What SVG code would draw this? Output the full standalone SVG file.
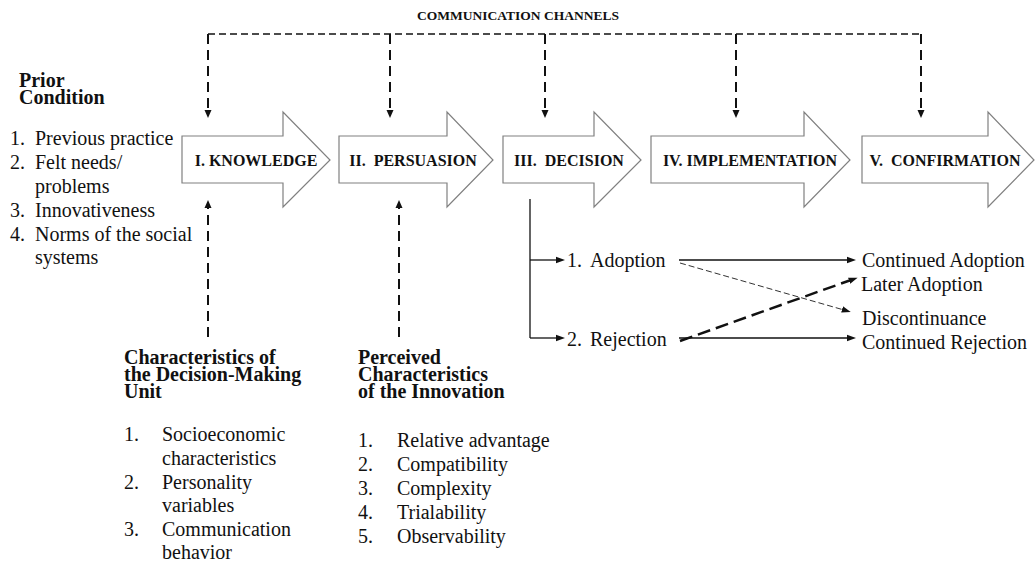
<svg xmlns="http://www.w3.org/2000/svg" width="1036" height="563" viewBox="0 0 1036 563">
<defs>
<style>
text{font-family:"Liberation Serif","Times New Roman",serif;fill:#111;}
.b{font-weight:bold;}
.stage{font-size:16px;font-weight:bold;text-anchor:middle;}
.t20{font-size:20px;}
.blk{fill:#fff;stroke:#808080;stroke-width:1.2;}
.dh{fill:none;stroke:#111;stroke-width:1.5;stroke-dasharray:7 4;}
.dv{fill:none;stroke:#111;stroke-width:2;stroke-dasharray:10 6;}
.sl{fill:none;stroke:#111;stroke-width:1.3;}
.thin{fill:none;stroke:#333;stroke-width:1;stroke-dasharray:6 3;}
.thick{fill:none;stroke:#111;stroke-width:2.5;stroke-dasharray:13 6;}
</style>
<marker id="ah" markerUnits="userSpaceOnUse" markerWidth="8" markerHeight="8" viewBox="0 0 8 8" refX="2" refY="4" orient="auto"><path d="M0,0.5 L8,4 L0,7.5 z" fill="#111"/></marker>
<marker id="as" markerUnits="userSpaceOnUse" markerWidth="9" markerHeight="8" viewBox="0 0 9 8" refX="2" refY="4" orient="auto"><path d="M0,0.8 L9,4 L0,7.2 z" fill="#111"/></marker>
</defs>
<rect width="1036" height="563" fill="#fff"/>

<g id="title"><text class="b" x="518" y="20" font-size="13.5" text-anchor="middle">COMMUNICATION CHANNELS</text></g>

<g id="knowledge"><path class="blk" d="M182,136 H283 V112 L330,160 L283,207 V183 H182 Z"/><text class="stage" x="256" y="166">I. KNOWLEDGE</text></g>
<g id="persuasion"><path class="blk" d="M339,136 H447 V112 L493,160 L447,207 V183 H339 Z"/><text class="stage" x="413" y="166" xml:space="preserve">II.  PERSUASION</text></g>
<g id="decision"><path class="blk" d="M503,136 H594 V112 L641,160 L594,207 V183 H503 Z"/><text class="stage" x="569" y="166" xml:space="preserve">III.  DECISION</text></g>
<g id="implementation"><path class="blk" d="M651,136 H804 V112 L850,160 L804,207 V183 H651 Z"/><text class="stage" x="750" y="166">IV. IMPLEMENTATION</text></g>
<g id="confirmation"><path class="blk" d="M862,136 H988 V112 L1034,160 L988,207 V183 H862 Z"/><text class="stage" x="945" y="166" xml:space="preserve">V.  CONFIRMATION</text></g>

<g id="prior-condition">
<text class="b t20" x="19" y="87">Prior</text>
<text class="b t20" x="19" y="104">Condition</text>
<text class="t20" x="10" y="145">1.</text><text class="t20" x="35" y="145">Previous practice</text>
<text class="t20" x="10" y="169">2.</text><text class="t20" x="35" y="169">Felt needs/</text>
<text class="t20" x="35" y="193">problems</text>
<text class="t20" x="10" y="217">3.</text><text class="t20" x="35" y="217">Innovativeness</text>
<text class="t20" x="10" y="241">4.</text><text class="t20" x="35" y="241">Norms of the social</text>
<text class="t20" x="35" y="264">systems</text>
</g>

<g id="decision-unit">
<text class="b t20" x="124" y="364">Characteristics of</text>
<text class="b t20" x="124" y="381">the Decision-Making</text>
<text class="b t20" x="124" y="398">Unit</text>
<text class="t20" x="124" y="441">1.</text><text class="t20" x="162" y="441">Socioeconomic</text>
<text class="t20" x="162" y="465">characteristics</text>
<text class="t20" x="124" y="489">2.</text><text class="t20" x="162" y="489">Personality</text>
<text class="t20" x="162" y="512">variables</text>
<text class="t20" x="124" y="536">3.</text><text class="t20" x="162" y="536">Communication</text>
<text class="t20" x="162" y="559">behavior</text>
</g>

<g id="innovation">
<text class="b t20" x="358" y="364">Perceived</text>
<text class="b t20" x="358" y="381">Characteristics</text>
<text class="b t20" x="358" y="398">of the Innovation</text>
<text class="t20" x="358" y="447">1.</text><text class="t20" x="397" y="447">Relative advantage</text>
<text class="t20" x="358" y="471">2.</text><text class="t20" x="397" y="471">Compatibility</text>
<text class="t20" x="358" y="495">3.</text><text class="t20" x="397" y="495">Complexity</text>
<text class="t20" x="358" y="519">4.</text><text class="t20" x="397" y="519">Trialability</text>
<text class="t20" x="358" y="543">5.</text><text class="t20" x="397" y="543">Observability</text>
</g>

<g id="adoption"><text class="t20" x="567" y="267">1.</text><text class="t20" x="590" y="267">Adoption</text></g>
<g id="rejection"><text class="t20" x="567" y="346">2.</text><text class="t20" x="590" y="346">Rejection</text></g>
<g id="continued-adoption"><text class="t20" x="862" y="267">Continued Adoption</text></g>
<g id="later-adoption"><text class="t20" x="861" y="291">Later Adoption</text></g>
<g id="discontinuance"><text class="t20" x="862" y="325">Discontinuance</text></g>
<g id="continued-rejection"><text class="t20" x="862" y="349">Continued Rejection</text></g>

<g id="connectors">
<path class="dh" d="M208,34 H921"/>
<line class="dv" x1="208" y1="34" x2="208" y2="112" marker-end="url(#ah)"/>
<line class="dv" x1="390" y1="34" x2="390" y2="112" marker-end="url(#ah)"/>
<line class="dv" x1="545" y1="34" x2="545" y2="112" marker-end="url(#ah)"/>
<line class="dv" x1="736" y1="34" x2="736" y2="112" marker-end="url(#ah)"/>
<line class="dv" x1="921" y1="34" x2="921" y2="112" marker-end="url(#ah)"/>
<line class="dv" x1="208" y1="337" x2="208" y2="206" marker-end="url(#ah)"/>
<line class="dv" x1="399" y1="337" x2="399" y2="206" marker-end="url(#ah)"/>
<path class="sl" d="M530,199 V338"/>
<line class="sl" x1="530" y1="260" x2="558" y2="260" marker-end="url(#as)"/>
<line class="sl" x1="530" y1="338" x2="558" y2="338" marker-end="url(#as)"/>
<line class="sl" x1="679" y1="260" x2="849" y2="260" marker-end="url(#as)"/>
<line class="sl" x1="679" y1="338" x2="849" y2="338" marker-end="url(#as)"/>
<line class="thin" x1="680" y1="263" x2="844" y2="310" marker-end="url(#as)"/>
<line class="thick" x1="680" y1="341" x2="851" y2="280" marker-end="url(#as)"/>
</g>
</svg>
